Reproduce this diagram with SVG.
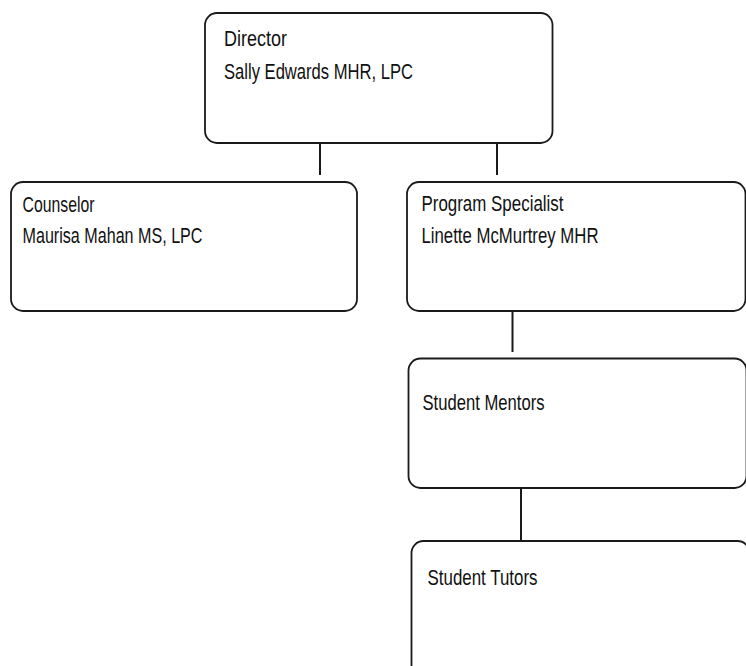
<svg xmlns="http://www.w3.org/2000/svg" width="746" height="666" viewBox="0 0 746 666">
<style>
.box{fill:#fff;stroke:#1a1a1a;stroke-width:1.8}
.lbl{font-family:"Liberation Sans Narrow","Liberation Sans",Arial,sans-serif;font-size:21.5px;fill:#111}
.conn line{stroke:#1a1a1a;stroke-width:2}
</style>
<rect width="746" height="666" fill="#fff"/>
<g class="conn" id="connectors">
<line x1="320" y1="143" x2="320" y2="175"/>
<line x1="497" y1="143" x2="497" y2="175"/>
<line x1="512.5" y1="311" x2="512.5" y2="352"/>
<line x1="521" y1="488" x2="521" y2="541"/>
</g>
<g id="director">
<rect class="box" x="205" y="13" width="347.5" height="130" rx="12"/>
<text class="lbl" x="224" y="46" textLength="63" lengthAdjust="spacingAndGlyphs">Director</text>
<text class="lbl" x="224" y="79" textLength="189" lengthAdjust="spacingAndGlyphs">Sally Edwards MHR, LPC</text>
</g>
<g id="counselor">
<rect class="box" x="11" y="182" width="346" height="129" rx="12"/>
<text class="lbl" x="22.5" y="211.5" textLength="72" lengthAdjust="spacingAndGlyphs">Counselor</text>
<text class="lbl" x="22.5" y="243" textLength="180" lengthAdjust="spacingAndGlyphs">Maurisa Mahan MS, LPC</text>
</g>
<g id="program-specialist">
<rect class="box" x="407" y="182" width="338.5" height="129" rx="12"/>
<text class="lbl" x="421.5" y="210.5" textLength="142" lengthAdjust="spacingAndGlyphs">Program Specialist</text>
<text class="lbl" x="421.5" y="243" textLength="177" lengthAdjust="spacingAndGlyphs">Linette McMurtrey MHR</text>
</g>
<g id="student-mentors">
<rect class="box" x="408.5" y="358.5" width="338" height="129.5" rx="12"/>
<text class="lbl" x="422.5" y="410" textLength="122" lengthAdjust="spacingAndGlyphs">Student Mentors</text>
</g>
<g id="student-tutors">
<rect class="box" x="411.5" y="541" width="338" height="140" rx="12"/>
<text class="lbl" x="427.5" y="585" textLength="110" lengthAdjust="spacingAndGlyphs">Student Tutors</text>
</g>
</svg>
